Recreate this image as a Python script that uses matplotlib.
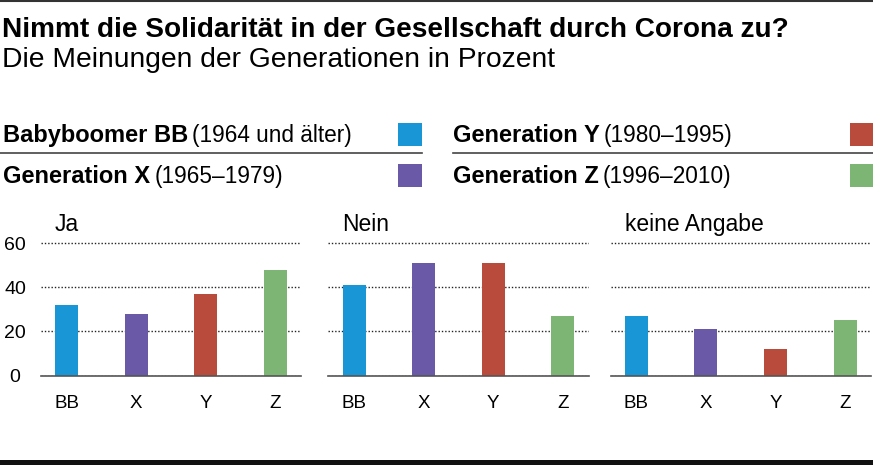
import matplotlib
matplotlib.use("Agg")
import matplotlib.pyplot as plt
from matplotlib.patches import Rectangle
from matplotlib.lines import Line2D

plt.rcParams['font.family'] = ['Liberation Sans', 'DejaVu Sans']

# data
generations = ['BB', 'X', 'Y', 'Z']
colors = ['#1996d6', '#6a59a6', '#b94b3c', '#7db574']
panel_titles = ['Ja', 'Nein', 'keine Angabe']
ja = [32, 28, 37, 48]
nein = [41, 51, 51, 27]
keine_angabe = [27, 21, 12, 25]
legend_bold = ['Babyboomer BB', 'Generation X', 'Generation Y', 'Generation Z']
legend_years = ['(1964 und älter)', '(1965–1979)', '(1980–1995)', '(1996–2010)']
yticks = [0, 20, 40, 60]

W, H = 873, 465


def fx(px):
    return px / W


def fy(py):
    return 1 - py / H


fig = plt.figure(figsize=(W / 100, H / 100), dpi=100)

# header
fig.text(fx(2), fy(36.7), 'Nimmt die Solidarität in der Gesellschaft durch Corona zu?',
         fontsize=20.2, fontweight='bold', va='baseline', ha='left')
fig.text(fx(2), fy(66.5), 'Die Meinungen der Generationen in Prozent',
         fontsize=20.3, va='baseline', ha='left')

# legend
renderer = fig.canvas.get_renderer()
col_x = [3, 452.7]
row_y = [141.7, 182.7]
swatch_x = [397.7, 850]
for i, (bold, years) in enumerate(zip(legend_bold, legend_years)):
    col, row = divmod(i, 2)
    t = fig.text(fx(col_x[col]), fy(row_y[row]), bold, fontsize=17,
                 fontweight='bold', va='baseline', ha='left')
    bb = t.get_window_extent(renderer)
    fig.text(fx(bb.x1 + 4), fy(row_y[row]), years, fontsize=16.3,
             va='baseline', ha='left')
    fig.add_artist(Rectangle((fx(swatch_x[col]), fy(row_y[row] + 4.5)), 24 / W, 23.3 / H,
                             transform=fig.transFigure, color=colors[i], lw=0))

fig.add_artist(Line2D([fx(0), fx(421.7)], [fy(153.3)] * 2, transform=fig.transFigure,
                      color='#444444', lw=1.2))
fig.add_artist(Line2D([fx(452.7), fx(873)], [fy(153.3)] * 2, transform=fig.transFigure,
                      color='#444444', lw=1.2))

# panels
lefts = [40.8, 328.3, 610.6]
px_per_unit = 132.2 / 60
ytop = 62
ax_bottom = 375.5
ax_h = ytop * px_per_unit
ax_w = 3.74 * 69.6

for k, (title, vals) in enumerate(zip(panel_titles, [ja, nein, keine_angabe])):
    ax = fig.add_axes([fx(lefts[k]), fy(ax_bottom), ax_w / W, ax_h / H])
    ax.bar(range(len(generations)), vals, width=0.33, color=colors, zorder=2)
    ax.set_xlim(-0.37, 3.37)
    ax.set_ylim(0, ytop)
    ax.set_yticks(yticks)
    ax.set_xticks(range(len(generations)))
    ax.set_xticklabels(generations, fontsize=13.5)
    ax.set_axisbelow(True)
    ax.yaxis.grid(True, linestyle=(0, (1, 1.4)), color='#222222', lw=1.0)
    for s in ['top', 'left', 'right']:
        ax.spines[s].set_visible(False)
    ax.spines['bottom'].set_color('#555555')
    ax.spines['bottom'].set_linewidth(1.2)
    ax.spines['bottom'].set_zorder(3)
    ax.tick_params(axis='x', length=0, pad=14)
    if k == 0:
        ax.tick_params(axis='y', length=0, pad=18.6, labelsize=14)
        for lbl in ax.get_yticklabels():
            lbl.set_horizontalalignment('center')
    else:
        ax.tick_params(axis='y', length=0, labelleft=False)
    fig.text(fx(lefts[k] + 14), fy(231), title, fontsize=16.5, va='baseline', ha='left')

# frame lines
fig.add_artist(Line2D([0, 1], [fy(1)] * 2, transform=fig.transFigure, color='#333333', lw=1.5))
fig.add_artist(Rectangle((0, 0), 1, 5 / H, transform=fig.transFigure, color='#111111', lw=0))

fig.savefig('out.png', dpi=100)
